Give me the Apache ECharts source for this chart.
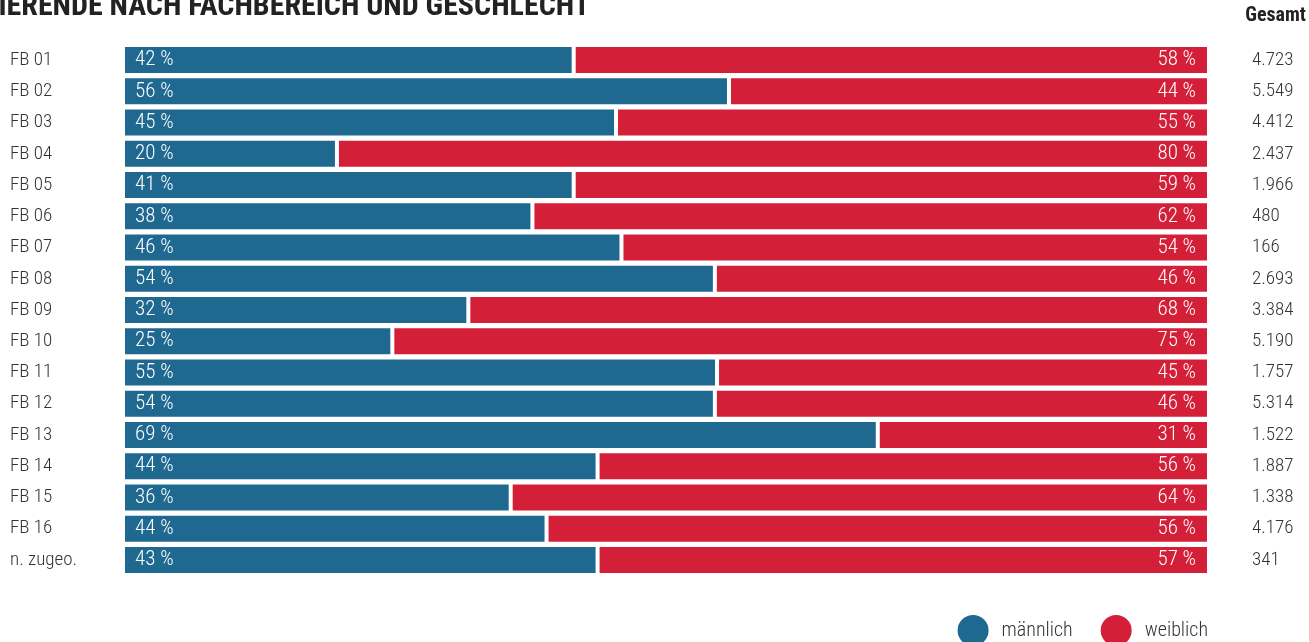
<!DOCTYPE html>
<html>
<head>
<meta charset="utf-8">
<script src="https://cdn.jsdelivr.net/npm/echarts@6/dist/echarts.min.js"></script>
<style>
html,body{margin:0;padding:0;background:#fff;}
#c{width:1309px;height:642px;}
</style>
</head>
<body>
<div id="c"></div>
<script>
const categories = ['FB 01','FB 02','FB 03','FB 04','FB 05','FB 06','FB 07','FB 08','FB 09','FB 10','FB 11','FB 12','FB 13','FB 14','FB 15','FB 16','n. zugeo.'];
// bar shares as drawn
const maleShare = [41.5,55.8,45.4,19.7,41.5,37.7,45.9,54.5,31.8,24.8,54.7,54.5,69.5,43.7,35.7,39.0,43.7];
// printed percentage labels
const maleLabels = [42,56,45,20,41,38,46,54,32,25,55,54,69,44,36,44,43];
const femaleLabels = [58,44,55,80,59,62,54,46,68,75,45,46,31,56,64,56,57];
const totals = ['4.723','5.549','4.412','2.437','1.966','480','166','2.693','3.384','5.190','1.757','5.314','1.522','1.887','1.338','4.176','341'];
const femaleShare = maleShare.map(v => +(100 - v).toFixed(1));

const FONT = "'Roboto Condensed','Liberation Sans Narrow','DejaVu Sans Condensed','Roboto',sans-serif";
const BLUE = '#1f6890', RED = '#d41f39';

const chart = echarts.init(document.getElementById('c'), null, {renderer:'canvas'});
chart.setOption({
  animation:false,
  textStyle:{fontFamily:FONT},
  grid:{left:123, right:100, top:44.4, bottom:66.4, containLabel:false},
  xAxis:{type:'value', min:0, max:100, show:false},
  yAxis:[{
    type:'category', data:categories, inverse:true,
    axisLine:{show:false}, axisTick:{show:false},
    axisLabel:{align:'left', margin:113, fontSize:19, fontWeight:300, color:'#333', fontFamily:FONT}
  },{
    type:'category', data:totals, inverse:true, position:'right',
    axisLine:{show:false}, axisTick:{show:false},
    axisLabel:{align:'left', margin:43, fontSize:19, fontWeight:300, color:'#333', fontFamily:FONT}
  }],
  legend:{
    data:['männlich','weiblich'], icon:'circle', itemWidth:33, itemHeight:33,
    right:101, top:613, padding:0, itemGap:26,
    textStyle:{fontSize:20, fontWeight:300, color:'#333', fontFamily:FONT, padding:[0,0,0,7]}
  },
  graphic:[
    {type:'text', x:590, y:7.5, style:{text:'STUDIERENDE NACH FACHBEREICH UND GESCHLECHT', fill:'#222', font:"bold 30px "+FONT, textAlign:'right', textVerticalAlign:'middle'}},
    {type:'text', x:1306, y:16, style:{text:'Gesamt', fill:'#222', font:"bold 20px "+FONT, textAlign:'right', textVerticalAlign:'middle'}}
  ],
  series:[{
    name:'männlich', type:'bar', stack:'s', barWidth:30,
    data:maleShare,
    itemStyle:{color:BLUE, borderColor:'#fff', borderWidth:2},
    label:{show:true, position:'insideLeft', distance:12, color:'#fff', fontSize:21, fontWeight:300, fontFamily:FONT,
      formatter:p => maleLabels[p.dataIndex] + ' %'}
  },{
    name:'weiblich', type:'bar', stack:'s', barWidth:30,
    data:femaleShare,
    itemStyle:{color:RED, borderColor:'#fff', borderWidth:2},
    label:{show:true, position:'insideRight', distance:13, color:'#fff', fontSize:21, fontWeight:300, fontFamily:FONT,
      formatter:p => femaleLabels[p.dataIndex] + ' %'}
  }]
});
</script>
</body>
</html>
